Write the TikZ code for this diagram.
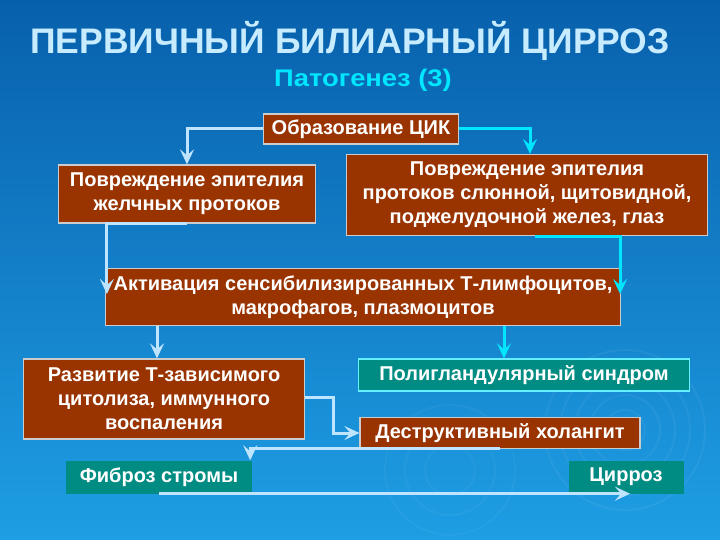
\documentclass[tikz,border=0pt]{standalone}
\usepackage{fontspec}
\setmainfont{Liberation Sans}
\newfontfamily\widesans[FakeStretch=1.14]{Liberation Sans}
\usetikzlibrary{arrows.meta}

\definecolor{bgtop}{RGB}{8,96,172}
\definecolor{bgbot}{RGB}{30,158,228}
\definecolor{brick}{RGB}{153,51,0}
\definecolor{seagreen}{RGB}{0,140,130}
\definecolor{paleblue}{RGB}{190,228,255}
\definecolor{aqua}{RGB}{0,230,255}
\definecolor{titleblue}{RGB}{200,236,255}

\begin{document}
\begin{tikzpicture}[
	x=1pt, y=-1pt,
	every node/.style = {
		font=\bfseries\fontsize{20}{24}\selectfont,
		text=white, align=center, inner sep=0pt},
	brownbox/.style = {
		rectangle, fill=brick, draw=gray!40, line width=1.2pt},
	tealbox/.style = {
		rectangle, fill=seagreen},
	paleline/.style = {
		draw=paleblue, line width=3pt,
		-{Stealth[length=15pt, width=14pt, inset=6pt]}},
	cyanline/.style = {
		paleline, draw=aqua}]

	% background
	\useasboundingbox (0,0) rectangle (720,540);
	\shade[top color=bgtop, bottom color=bgbot] (0,0) rectangle (720,540);
	\foreach \r in {20,35,50,65,80}
		\draw[white, opacity=0.05, line width=2pt] (625,430) circle (\r);
	\foreach \r in {25,45,65}
		\draw[white, opacity=0.04, line width=2pt] (450,470) circle (\r);

	\node[text=titleblue, font=\bfseries\fontsize{35.5}{40}\selectfont]
		(title) at (350,41) {ПЕРВИЧНЫЙ БИЛИАРНЫЙ ЦИРРОЗ};
	\node[text=aqua, font=\widesans\bfseries\fontsize{24}{28}\selectfont]
		(sub) at (363,80) {Патогенез (3)};

	\node[brownbox, minimum width=195pt, minimum height=30pt]
		(cik) at (361,129) {Образование ЦИК};
	\node[brownbox, minimum width=257pt, minimum height=58pt]
		(ductL) at (187,194) {Повреждение эпителия\\желчных протоков};
	\node[brownbox, minimum width=361pt, minimum height=81pt]
		(ductR) at (527,195) {Повреждение эпителия\\протоков слюнной, щитовидной,\\поджелудочной желез, глаз};
	\node[brownbox, minimum width=515pt, minimum height=57pt]
		(activ) at (363,297) {Активация сенсибилизированных Т-лимфоцитов,\\макрофагов, плазмоцитов};
	\node[brownbox, minimum width=281pt, minimum height=80pt]
		(dev) at (164,399) {Развитие Т-зависимого\\цитолиза, иммунного\\воспаления};
	\node[tealbox, draw=aqua!60, line width=1.2pt, minimum width=331pt, minimum height=32pt]
		(poly) at (524,375) {Полигландулярный синдром};
	\node[brownbox, minimum width=280pt, minimum height=31pt]
		(destr) at (500,433) {Деструктивный холангит};
	\node[tealbox, minimum width=186pt, minimum height=33pt]
		(fib) at (159,477) {Фиброз стромы};
	\node[tealbox, minimum width=115pt, minimum height=33pt]
		(cirr) at (626,477) {Цирроз};

	\draw[paleline] (cik.west) -| (ductL.north);
	\draw[cyanline] (cik.east) -| ([xshift=3pt]ductR.north);
	\draw[paleline] (ductL.south) -| ([xshift=2pt, yshift=3pt]activ.west);
	\draw[cyanline] ([xshift=8pt]ductR.south) -| ([xshift=-1pt, yshift=3pt]activ.east);
	\draw[paleline] ([xshift=-7pt]dev.north |- activ.south) -- ([xshift=-7pt]dev.north);
	\draw[cyanline] ([xshift=-20pt]poly.north |- activ.south) -- ([xshift=-20pt]poly.north);
	\draw[paleline] ([yshift=2pt]dev.east) -- ++(28,0) |- (destr.west);
	\draw[paleline] ([yshift=1pt]destr.south) -| ([xshift=-2pt]fib.north east);
	\draw[paleline] (fib.south) -- ([xshift=4pt]cirr.south);
\end{tikzpicture}
\end{document}
